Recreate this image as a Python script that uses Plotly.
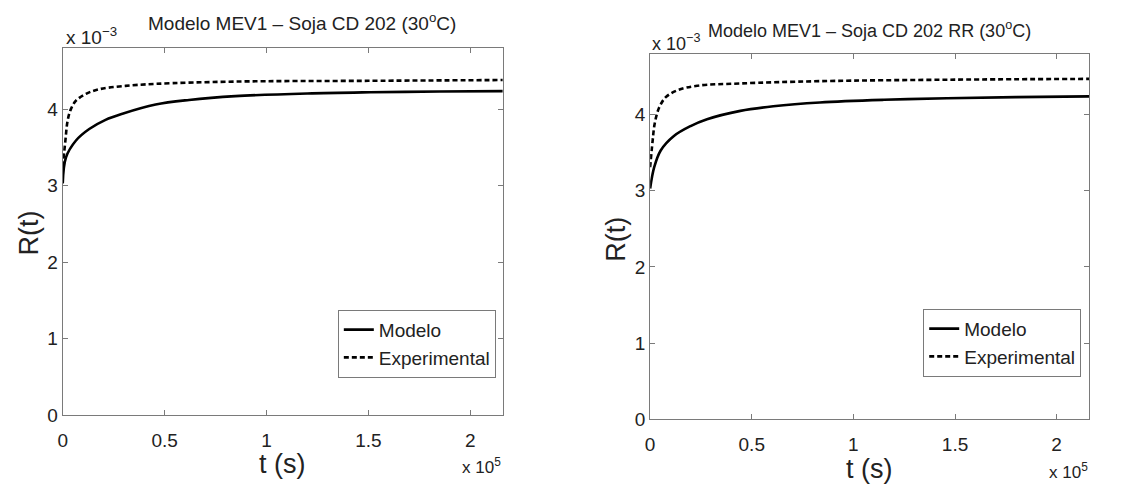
import plotly.graph_objects as go

# ---- data ----
# Left panel: Soja CD 202 (30 °C)
t_mod_L = [0, 1600, 6500, 13000, 21000, 29300, 45600, 62000, 84700, 120000, 151000, 185000, 216000]
R_mod_L = [3.03e-3, 3.37e-3, 3.59e-3, 3.74e-3, 3.86e-3, 3.94e-3, 4.06e-3, 4.12e-3, 4.17e-3, 4.205e-3, 4.22e-3, 4.23e-3, 4.235e-3]
t_exp_L = [0, 1300, 2400, 4000, 6500, 11400, 17900, 29300, 45600, 84700, 150000, 216000]
R_exp_L = [3.25e-3, 3.59e-3, 3.85e-3, 4.00e-3, 4.11e-3, 4.20e-3, 4.26e-3, 4.30e-3, 4.33e-3, 4.36e-3, 4.37e-3, 4.38e-3]

# Right panel: Soja CD 202 RR (30 °C)
t_mod_R = [0, 2000, 5200, 11700, 19900, 28000, 44400, 60600, 83500, 115000, 146000, 180000, 216000]
R_mod_R = [3.03e-3, 3.31e-3, 3.53e-3, 3.72e-3, 3.85e-3, 3.94e-3, 4.05e-3, 4.11e-3, 4.16e-3, 4.195e-3, 4.215e-3, 4.23e-3, 4.24e-3]
t_exp_R = [0, 1200, 2300, 4400, 7700, 13400, 23200, 44400, 83500, 150000, 216000]
R_exp_R = [3.31e-3, 3.65e-3, 3.89e-3, 4.09e-3, 4.23e-3, 4.32e-3, 4.38e-3, 4.41e-3, 4.44e-3, 4.46e-3, 4.47e-3]

x_tickvals = [0, 50000, 100000, 150000, 200000]
x_ticktext = ["0", "0.5", "1", "1.5", "2"]
y_tickvals = [0, 1e-3, 2e-3, 3e-3, 4e-3]
y_ticktext = ["0", "1", "2", "3", "4"]

titles = ["Modelo MEV1 – Soja CD 202 (30<sup>o</sup>C)",
          "Modelo MEV1 – Soja CD 202 RR (30<sup>o</sup>C)"]

FONT = "Liberation Sans, Arial, Helvetica, sans-serif"
TXT = "#222222"
W, H = 1129, 484

fig = go.Figure()

panels = [
    dict(xa="x", ya="y", leg="legend", tm=t_mod_L, rm=R_mod_L, te=t_exp_L, re=R_exp_L),
    dict(xa="x2", ya="y2", leg="legend2", tm=t_mod_R, rm=R_mod_R, te=t_exp_R, re=R_exp_R),
]
for p in panels:
    fig.add_trace(go.Scatter(x=p["tm"], y=p["rm"], mode="lines", name="Modelo",
                             line=dict(color="black", width=2.6, shape="spline", smoothing=1.0),
                             xaxis=p["xa"], yaxis=p["ya"], legend=p["leg"]))
    fig.add_trace(go.Scatter(x=p["te"], y=p["re"], mode="lines", name="Experimental",
                             line=dict(color="black", width=2.6, dash="5px,3px", shape="spline", smoothing=1.0),
                             xaxis=p["xa"], yaxis=p["ya"], legend=p["leg"]))

# pixel geometry -> paper fractions
def px(x):
    return x / W

def py(y):
    return 1 - y / H

L = dict(x0=58, x1=500, y0=49, y1=425)
R = dict(x0=648, x1=1089, y0=55, y1=429)

axis_common = dict(showline=True, linecolor="#7a7a7a", linewidth=1.2, mirror="ticks",
                   ticks="inside", ticklen=5, tickcolor="#7a7a7a", showgrid=False, zeroline=False,
                   tickfont=dict(family=FONT, size=19, color=TXT))

legend_common = dict(xanchor="right", yanchor="top", bordercolor="#7a7a7a", borderwidth=1,
                     bgcolor="white", font=dict(family=FONT, size=19, color=TXT),
                     tracegroupgap=0, itemwidth=30)

fig.update_layout(
    width=W, height=H,
    margin=dict(l=0, r=0, t=0, b=0),
    paper_bgcolor="white", plot_bgcolor="white",
    font=dict(family=FONT, color=TXT),
    xaxis=dict(domain=[px(L["x0"]), px(L["x1"])], anchor="y", range=[0, 216000],
               tickvals=x_tickvals, ticktext=x_ticktext, ticklabelstandoff=8, **axis_common),
    yaxis=dict(domain=[py(L["y1"]), py(L["y0"])], anchor="x", range=[0, 4.8e-3],
               tickvals=y_tickvals, ticktext=y_ticktext, **axis_common),
    xaxis2=dict(domain=[px(R["x0"]), px(R["x1"])], anchor="y2", range=[0, 216000],
                tickvals=x_tickvals, ticktext=x_ticktext, ticklabelstandoff=8, **axis_common),
    yaxis2=dict(domain=[py(R["y1"]), py(R["y0"])], anchor="x2", range=[0, 4.8e-3],
                tickvals=y_tickvals, ticktext=y_ticktext, **axis_common),
    legend=dict(x=px(493), y=py(317), **legend_common),
    legend2=dict(x=px(1081), y=py(316), **legend_common),
    showlegend=True,
)

def note(text, x, y, size, xanchor="center", angle=0):
    return dict(text=text, x=px(x), y=py(y), xref="paper", yref="paper",
                xanchor=xanchor, yanchor="middle", textangle=angle, showarrow=False,
                font=dict(family=FONT, size=size, color=TXT))

ann = [
    note(titles[0], 298, 23, 19),
    note(titles[1], 868, 30, 18),
    note("x 10<sup>−3</sup>", 59, 37, 19, xanchor="left"),
    note("x 10<sup>−3</sup>", 648, 43, 18, xanchor="left"),
    note("x 10<sup>5</sup>", 500, 477, 17, xanchor="right"),
    note("x 10<sup>5</sup>", 1090, 482, 17, xanchor="right"),
    note("t (s)", 279, 475, 27),
    note("t (s)", 868, 480, 27),
    note("R(t)", 24, 238, 27, angle=-90),
    note("R(t)", 614, 245, 27, angle=-90),
]
fig.update_layout(annotations=ann)

fig.write_html("out.html")
